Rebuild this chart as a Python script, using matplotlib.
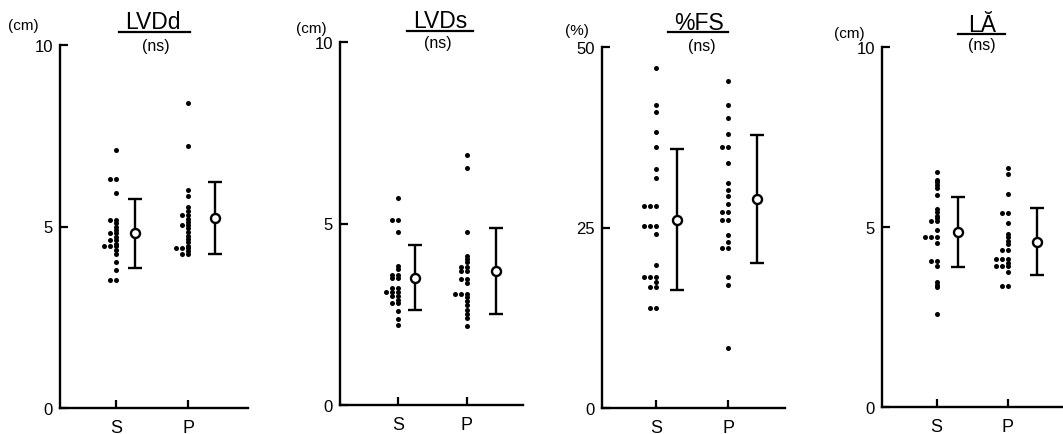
import numpy as np
import matplotlib
matplotlib.use("Agg")
import matplotlib.pyplot as plt
from matplotlib.lines import Line2D

plt.rcParams['font.family'] = ['Liberation Sans', 'DejaVu Sans']

W, H = 1063, 435

# ---- data ----
groups = ['S', 'P']
titles = ['LVDd', 'LVDs', '%FS', 'LĂ']
units = ['(cm)', '(cm)', '(%)', '(cm)']
ymax = [10, 10, 50, 10]
yticks = [[0, 5, 10], [0, 5, 10], [0, 25, 50], [0, 5, 10]]

lvdd_s = [7.12, 6.31, 6.31, 5.92, 5.17, 5.17, 5.10, 5.00, 4.91, 4.81, 4.81, 4.72,
          4.63, 4.63, 4.53, 4.45, 4.45, 4.45, 4.34, 4.24, 4.03, 3.80, 3.53, 3.53]
lvdd_p = [8.40, 7.21, 6.01, 5.83, 5.53, 5.44, 5.32, 5.32, 5.22, 5.13, 5.04, 5.04,
          4.95, 4.86, 4.75, 4.66, 4.56, 4.47, 4.40, 4.40, 4.40, 4.32, 4.24, 4.24]
lvds_s = [5.70, 5.10, 5.10, 4.77, 3.84, 3.75, 3.58, 3.58, 3.49, 3.49, 3.21, 3.21,
          3.10, 3.10, 3.10, 3.01, 3.01, 2.90, 2.81, 2.81, 2.60, 2.37, 2.21]
lvds_p = [6.89, 6.52, 4.77, 4.11, 4.02, 3.93, 3.79, 3.79, 3.70, 3.70, 3.47, 3.47,
          3.36, 3.06, 3.06, 3.06, 2.97, 2.87, 2.75, 2.63, 2.51, 2.39, 2.18]
fs_s = [47.1, 42.0, 41.0, 38.2, 36.1, 33.1, 31.9, 28.0, 28.0, 28.0, 25.2, 25.2,
        25.2, 24.1, 19.8, 18.1, 18.1, 18.1, 17.5, 16.7, 16.7, 13.9, 13.9]
fs_p = [45.3, 41.9, 40.2, 37.9, 36.1, 36.1, 34.0, 31.2, 30.2, 29.3, 28.2, 27.1,
        27.1, 26.1, 26.1, 24.0, 23.0, 22.1, 22.1, 18.1, 17.0, 8.3]
la_s = [6.52, 6.31, 6.24, 6.17, 6.08, 5.90, 5.50, 5.41, 5.31, 5.24, 5.18, 5.18,
        4.92, 4.71, 4.71, 4.71, 4.56, 4.06, 4.06, 3.93, 3.46, 3.39, 3.33, 2.58]
la_p = [6.63, 6.47, 5.92, 5.39, 5.39, 5.10, 4.81, 4.71, 4.62, 4.53, 4.37, 4.37,
        4.11, 4.11, 4.11, 4.00, 3.91, 3.91, 3.91, 3.76, 3.35, 3.35]

# mean and SD shown as open circle with bars
mean_s = [4.81, 3.51, 26.1, 4.87]
sd_s = [0.95, 0.90, 9.8, 0.97]
mean_p = [5.23, 3.70, 29.0, 4.59]
sd_p = [1.00, 1.18, 8.85, 0.93]

dots = [(lvdd_s, lvdd_p), (lvds_s, lvds_p), (fs_s, fs_p), (la_s, la_p)]

# ---- layout in pixels: left, top, bottom, px per unit, xlim, mean x offsets ----
layout = [
    dict(left=60, top=46, bottom=409, ppu=72, xlim=(0.22, 2.83), mx=(1.26, 2.375)),
    dict(left=340, top=43, bottom=406, ppu=69, xlim=(0.16, 2.81), mx=(1.25, 2.42)),
    dict(left=602, top=48, bottom=409, ppu=72, xlim=(0.25, 2.79), mx=(1.29, 2.40)),
    dict(left=882, top=48, bottom=408, ppu=71, xlim=(0.23, 2.85), mx=(1.30, 2.42)),
]
title_pos = [(153, 29, 119, 190, 33, 156, 46.5, 23, 26),
             (440, 28, 407, 473, 32, 438, 43.5, 311, 29),
             (699, 30, 668, 728, 33, 702, 46.5, 577, 31.5),
             (982, 32, 958, 1005, 35, 982, 45.5, 849, 34)]


def fx(x):
    return x / W


def fy(y):
    return 1 - y / H


def spread(values, xc, dx):
    # same values sit side by side, extras to the left
    xs, ys = [], []
    vals, counts = np.unique(np.round(values, 2), return_counts=True)
    for v, c in zip(vals, counts):
        for i in range(c):
            xs.append(xc - i * dx)
            ys.append(v)
    return xs, ys


fig = plt.figure(figsize=(W / 100, H / 100), dpi=100)

for k in range(4):
    L = layout[k]
    width = (L['xlim'][1] - L['xlim'][0]) * L['ppu']
    ax = fig.add_axes([fx(L['left']), fy(L['bottom']), width / W,
                       (L['bottom'] - L['top']) / H])
    ax.set_xlim(*L['xlim'])
    ax.set_ylim(0, ymax[k])
    for s in ['top', 'right']:
        ax.spines[s].set_visible(False)
    for s in ['left', 'bottom']:
        ax.spines[s].set_linewidth(1.7)
    ax.spines['left'].set_bounds(0, ymax[k])
    ax.set_xticks([1, 2])
    ax.set_xticklabels(groups, fontsize=13)
    ax.set_yticks(yticks[k])
    ax.set_yticklabels([str(t) for t in yticks[k]], fontsize=12)
    ax.tick_params(axis='both', direction='in', length=6, width=1.6)
    ax.tick_params(axis='x', pad=8)
    ax.tick_params(axis='y', pad=5)

    dx = 6.0 / L['ppu']
    for g in range(2):
        xs, ys = spread(dots[k][g], g + 1, dx)
        ax.plot(xs, ys, 'o', color='black', markersize=3.6, markeredgewidth=0,
                clip_on=False)

    ax.errorbar(L['mx'], [mean_s[k], mean_p[k]], yerr=[sd_s[k], sd_p[k]],
                fmt='o', color='black', mfc='white', mec='black', markersize=6.5,
                mew=1.7, elinewidth=1.7, capsize=5, capthick=1.7, zorder=5)

    tx, tb, l0, l1, ly, nx, ny, ux, uy = title_pos[k]
    fig.text(fx(tx), fy(tb), titles[k], fontsize=16.5, ha='center', va='baseline')
    fig.add_artist(Line2D([fx(l0), fx(l1)], [fy(ly), fy(ly)], color='black',
                          lw=1.6, transform=fig.transFigure))
    fig.text(fx(nx), fy(ny), '(ns)', fontsize=11.5, ha='center', va='center')
    fig.text(fx(ux), fy(uy), units[k], fontsize=11, ha='center', va='center')

fig.savefig('out.png', dpi=100)
